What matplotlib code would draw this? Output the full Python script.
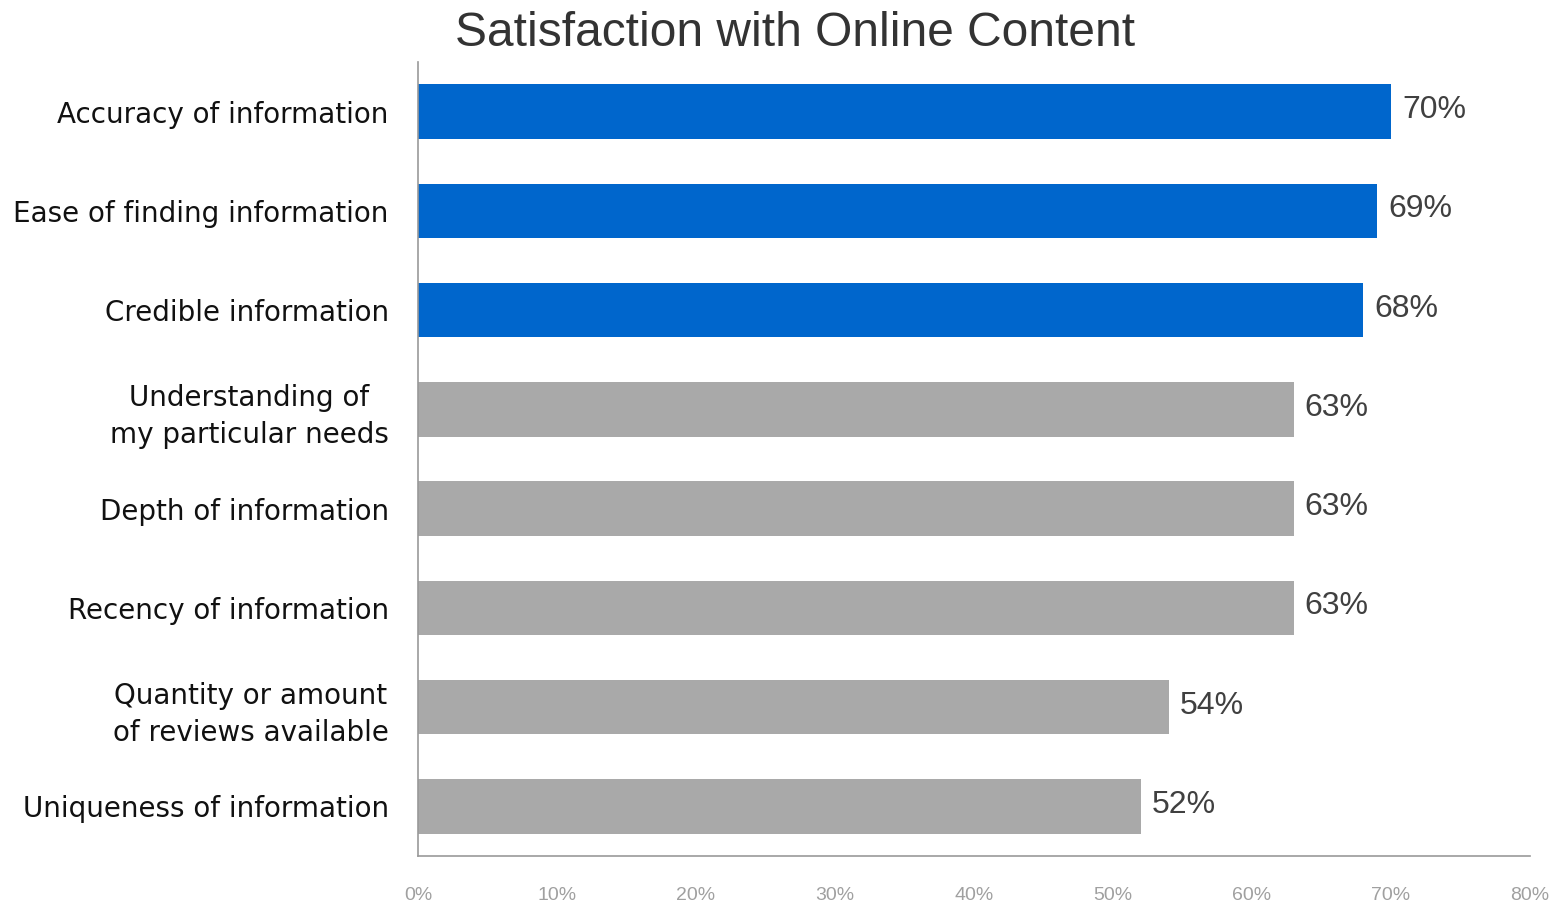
import matplotlib
matplotlib.use("Agg")
import matplotlib.pyplot as plt
from matplotlib.ticker import FuncFormatter

plt.rcParams['font.family'] = ['Liberation Sans', 'DejaVu Sans']

categories = [
    "Accuracy of information",
    "Ease of finding information",
    "Credible information",
    "Understanding of\nmy particular needs",
    "Depth of information",
    "Recency of information",
    "Quantity or amount\nof reviews available",
    "Uniqueness of information",
]
values = [70, 69, 68, 63, 63, 63, 54, 52]
highlighted = [True, True, True, False, False, False, False, False]

BLUE = "#0066CC"
GREY = "#A9A9A9"

fig = plt.figure(figsize=(15.53, 9.02), dpi=100)
ax = fig.add_axes([418 / 1553, 46 / 902, 1112 / 1553, 794 / 902])

ypos = list(range(len(categories)))
colors = [BLUE if h else GREY for h in highlighted]
bars = ax.barh(ypos, values, height=0.55, color=colors)

for bar, v in zip(bars, values):
    ax.annotate(f"{v}%", xy=(bar.get_width(), bar.get_y() + bar.get_height() / 2),
                xytext=(8, 1), textcoords="offset points", ha="left", va="center",
                fontsize=23, color="#404040")

ax.set_xlim(0, 80)
ax.set_ylim(len(categories) - 0.5, -0.5)
ax.set_xticks(range(0, 81, 10))
ax.xaxis.set_major_formatter(FuncFormatter(lambda x, p: f"{int(x)}%"))
ax.set_yticks(ypos)
ax.set_yticklabels(categories, multialignment="center", linespacing=1.4,
                   family=['DejaVu Sans'])

ax.tick_params(axis="x", length=0, pad=22, labelsize=14, labelcolor="#A0A0A0")
ax.tick_params(axis="y", length=0, pad=21, labelsize=20, labelcolor="#111111")

for side in ("top", "right"):
    ax.spines[side].set_visible(False)
for side in ("left", "bottom"):
    ax.spines[side].set_color("#999999")
    ax.spines[side].set_linewidth(1.2)

fig.text(795 / 1553, 1 - 33 / 902, "Satisfaction with Online Content",
         ha="center", va="center", fontsize=34.5, color="#333333")

fig.savefig("out.png", dpi=100)
